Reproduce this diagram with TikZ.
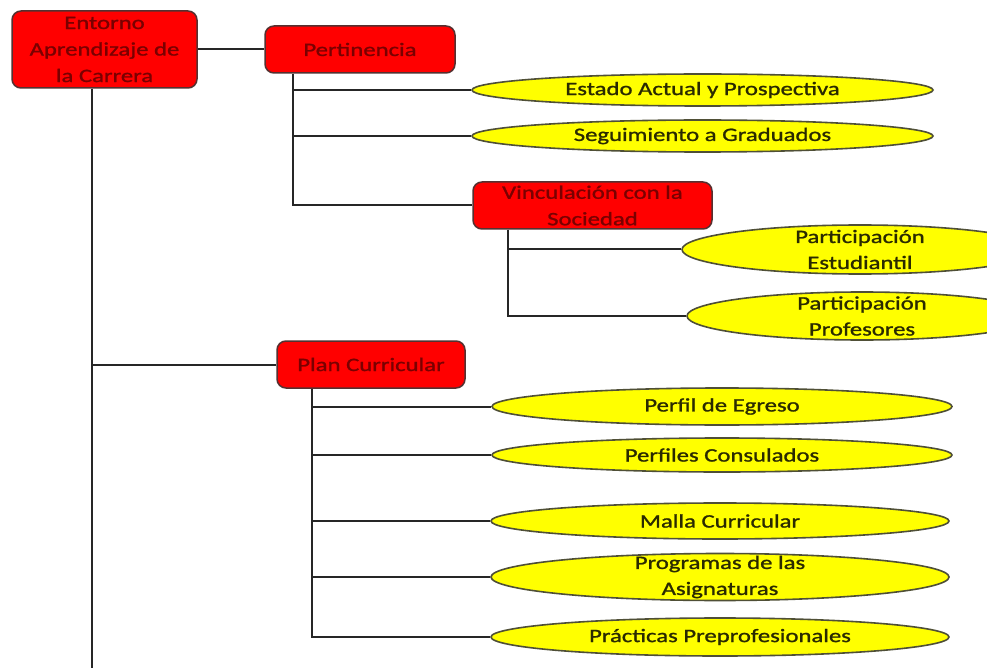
\documentclass[tikz,border=0pt]{standalone}
\usepackage{fontspec}
\setmainfont{Carlito}[FakeStretch=1.3, FakeBold=1.2, AutoFakeBold=1.2]
\usetikzlibrary{shapes.geometric}
\definecolor{boxred}{HTML}{FF0000}
\definecolor{boxedge}{HTML}{553030}
\definecolor{boxink}{HTML}{7A0000}
\definecolor{leafyellow}{HTML}{FFFF00}
\definecolor{leafedge}{HTML}{4F4F36}
\definecolor{leafink}{HTML}{2A2A00}
\definecolor{wire}{HTML}{262626}
\tikzset{
  topic/.style={draw=boxedge, fill=boxred, line width=1.5pt, rounded corners=9pt,
    rectangle, inner sep=0pt},
  leaf/.style={draw=leafedge, fill=leafyellow, line width=1.6pt, ellipse, inner sep=0pt},
  topictext/.style={text=boxink, align=center, inner sep=0pt,
    font=\fontsize{19}{26.5}\selectfont\bfseries},
  leaftext/.style={text=leafink, align=center, inner sep=0pt,
    font=\fontsize{19}{26}\selectfont},
  wireline/.style={draw=wire, line width=2pt}
}
\begin{document}
\begin{tikzpicture}[x=1pt, y=-1pt]
  \useasboundingbox (0,0) rectangle (987,668);
  \clip (0,0) rectangle (987,668);
  \fill[white] (0,0) rectangle (987,668);

  % vertical buses
  \coordinate (rootbus) at (92,668);
  \coordinate (pbus) at (293,0);
  \coordinate (vbus) at (508,0);
  \coordinate (cbus) at (312,0);

  % red topic boxes
  \node[topic, minimum width=185pt, minimum height=77pt] (root) at (104.5,49.5) {};
  \node[topic, minimum width=190pt, minimum height=47pt] (pert) at (360,49.5) {};
  \node[topic, minimum width=239pt, minimum height=47pt] (vinc) at (592.5,205.5) {};
  \node[topic, minimum width=188pt, minimum height=47pt] (plan) at (371,364.5) {};

  % yellow leaves
  \node[leaf, minimum width=461pt, minimum height=32pt] (estado) at (702.5,90) {};
  \node[leaf, minimum width=461pt, minimum height=32pt] (segui) at (702.5,136) {};
  \node[leaf, minimum width=356pt, minimum height=49pt] (estud) at (860,249.5) {};
  \node[leaf, minimum width=350pt, minimum height=48pt] (profes) at (862,316) {};
  \node[leaf, minimum width=460pt, minimum height=37pt] (perfil) at (722,406.5) {};
  \node[leaf, minimum width=460pt, minimum height=34pt] (perfiles) at (722,455) {};
  \node[leaf, minimum width=458pt, minimum height=36pt] (malla) at (720,521) {};
  \node[leaf, minimum width=458pt, minimum height=47pt] (progr) at (720,577) {};
  \node[leaf, minimum width=458pt, minimum height=38pt] (pract) at (720,637) {};

  % connectors
  \draw[wireline] (root.east) -- (pert.west);
  \draw[wireline] (root.south -| rootbus) -- (rootbus);
  \draw[wireline] (rootbus |- plan.west) -- (plan.west);

  \draw[wireline] (pert.south -| pbus) -- (pbus |- vinc.west) -- (vinc.west);
  \draw[wireline] (pbus |- estado.west) -- (estado.west);
  \draw[wireline] (pbus |- segui.west) -- (segui.west);

  \draw[wireline] (vinc.south -| vbus) -- (vbus |- profes.west) -- (profes.west);
  \draw[wireline] (vbus |- estud.west) -- (estud.west);

  \draw[wireline] (plan.south -| cbus) -- (cbus |- pract.west) -- (pract.west);
  \draw[wireline] (cbus |- perfil.west) -- (perfil.west);
  \draw[wireline] (cbus |- perfiles.west) -- (perfiles.west);
  \draw[wireline] (cbus |- malla.west) -- (malla.west);
  \draw[wireline] (cbus |- progr.west) -- (progr.west);

  % texts
  \node[topictext] (roott) at (root) {Entorno\\Aprendizaje de\\la Carrera};
  \node[topictext] (pertt) at (pert) {Pertinencia};
  \node[topictext] (vinct) at (vinc) {Vinculación con la\\Sociedad};
  \node[topictext] (plant) at (plan) {Plan Curricular};

  \node[leaftext] (estadot) at (estado) {Estado Actual y Prospectiva};
  \node[leaftext] (seguit) at (segui) {Seguimiento a Graduados};
  \node[leaftext] (estudt) at (estud) {Participación\\Estudiantil};
  \node[leaftext] (profest) at (profes) {Participación\\Profesores};
  \node[leaftext] (perfilt) at (perfil) {Perfil de Egreso};
  \node[leaftext] (perfilest) at (perfiles) {Perfiles Consulados};
  \node[leaftext] (mallat) at (malla) {Malla Curricular};
  \node[leaftext] (progrt) at (progr) {Programas de las\\Asignaturas};
  \node[leaftext] (practt) at (pract) {Prácticas Preprofesionales};
\end{tikzpicture}
\end{document}
